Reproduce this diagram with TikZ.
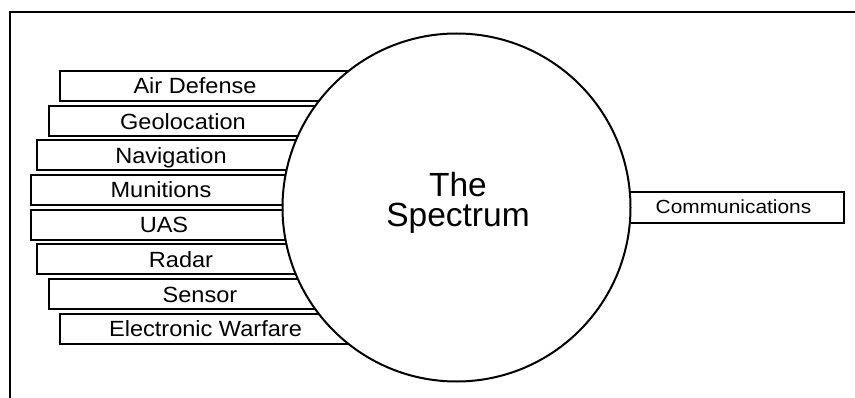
\documentclass[tikz,border=0pt]{standalone}
\usepackage{fontspec}
\setmainfont{Liberation Sans}
\newfontfamily\boxfont[FakeStretch=1.07]{Liberation Sans}
\newfontfamily\commfont[FakeStretch=1.1]{Liberation Sans}
\begin{document}
\begin{tikzpicture}[x=1pt,y=-1pt,
  lbox/.style={draw=black,fill=white,line width=2pt,anchor=north west,minimum height=30pt,inner sep=0pt,outer sep=0pt},
  ltext/.style={anchor=base,inner sep=0pt,font=\boxfont\fontsize{22}{26}\selectfont},
  ctext/.style={anchor=base,inner sep=0pt,font=\commfont\fontsize{19}{22}\selectfont},
  btext/.style={anchor=base,inner sep=0pt,align=center,font=\fontsize{33.5}{30}\selectfont}]
\useasboundingbox (0,0) rectangle (855,398);
\fill[white] (0,0) rectangle (855,398);
% frame
\draw[line width=2pt] (10,410) -- (10,12) -- (870,12);
% label boxes
\node[lbox,minimum width=360pt] (b1) at (60,71) {};
\node[lbox,minimum width=371pt] (b2) at (49,105.7) {};
\node[lbox,minimum width=383pt] (b3) at (37,140.4) {};
\node[lbox,minimum width=389pt] (b4) at (31,175.1) {};
\node[lbox,minimum width=389pt] (b5) at (31,209.8) {};
\node[lbox,minimum width=383pt] (b6) at (37,244.5) {};
\node[lbox,minimum width=371pt] (b7) at (49,279.2) {};
\node[lbox,minimum width=360pt] (b8) at (60,313.9) {};
\node[lbox,minimum width=224pt,minimum height=31pt] (cb) at (620,192) {};
% circle
\node[circle,draw=black,fill=white,line width=2pt,minimum size=348pt,inner sep=0pt] (sp) at (456.5,207.5) {};
% texts
\node[ltext] (t1) at (195,94) {Air Defense};
\node[ltext] (t2) at (183,129.5) {Geolocation};
\node[ltext] (t3) at (171,163.5) {Navigation};
\node[ltext] (t4) at (161,198) {Munitions};
\node[ltext] (t5) at (164,233) {UAS};
\node[ltext] (t6) at (181,268) {Radar};
\node[ltext] (t7) at (200,302.5) {Sensor};
\node[ltext] (t8) at (205.5,337) {Electronic Warfare};
\node[ctext] (tc) at (733.5,214) {Communications};
\node[btext] (th) at (458,227) {The\\Spectrum};
\end{tikzpicture}
\end{document}
